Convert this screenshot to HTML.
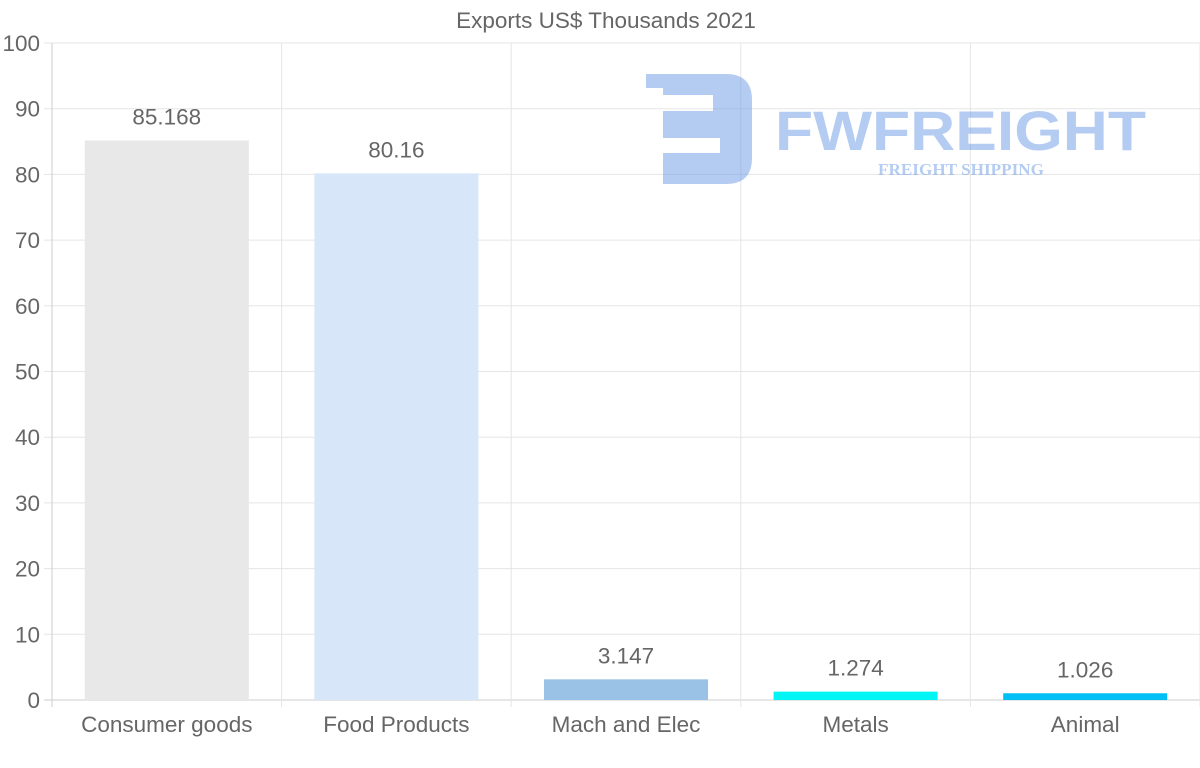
<!DOCTYPE html>
<html><head><meta charset="utf-8"><style>
body{margin:0;background:#fff;width:1200px;height:763px;overflow:hidden;font-family:"Liberation Sans",sans-serif}
</style></head><body>
<svg id="chart" width="1200" height="763" xmlns="http://www.w3.org/2000/svg" font-family="Liberation Sans, sans-serif">
<text x="606" y="28" text-anchor="middle" font-size="22.5" fill="#666">Exports US$ Thousands 2021</text>
<g id="grid"></g>
<g id="watermark" opacity="0.5">
<path d="M646 74 H726 Q752 74 752 100 V158 Q752 184 726 184 H663 V153 H720 V138 H663 V111 H713 V95 H663 V88 H646 Z" fill="#6b9ae6"/>
<text x="775" y="150" font-size="56" font-weight="bold" fill="#6b9ae6" textLength="371" lengthAdjust="spacingAndGlyphs">FWFREIGHT</text>
<text x="878" y="175" font-size="17" font-weight="bold" font-family="Liberation Serif, serif" fill="#6b9ae6" textLength="166" lengthAdjust="spacingAndGlyphs">FREIGHT SHIPPING</text>
</g>
<g id="bars"></g>
</svg>
<script>
const categories=["Consumer goods","Food Products","Mach and Elec","Metals","Animal"];
const values=[85.168,80.16,3.147,1.274,1.026];
const valueLabels=["85.168","80.16","3.147","1.274","1.026"];
const colors=["#e8e8e8","#d7e7f9","#9ac2e6","#00f5f5","#00bff5"];
const yTicks=[0,10,20,30,40,50,60,70,80,90,100];
const NS="http://www.w3.org/2000/svg";
const L=52,R=1200,T=43,B=700,yMax=100;
const y=v=>B-(v/yMax)*(B-T);
const bw=(R-L)/categories.length;
const x=i=>L+bw*i;
function mk(tag,attrs,parent){const e=document.createElementNS(NS,tag);for(const k in attrs)e.setAttribute(k,attrs[k]);parent.appendChild(e);return e;}
const grid=document.getElementById('grid'),bars=document.getElementById('bars');
yTicks.forEach(t=>{
 const ln=mk('line',{x1:44,x2:R,y1:y(t),y2:y(t),stroke:t===0?'#ccc':'#e5e5e5','stroke-width':1},grid);
 
 
 const tx=mk('text',{x:40,y:y(t)+8,'text-anchor':'end','font-size':22.5,fill:'#666'},grid);
 tx.textContent=t;
 
 
});
for(let i=0;i<=categories.length;i++){
 const ln=mk('line',{x1:x(i),x2:x(i),y1:T,y2:707,stroke:i===0?'#ccc':'#e5e5e5','stroke-width':1},grid);
 
 
}
categories.forEach((c,i)=>{
 const cx=x(i)+bw/2,w=164;
 const r=mk('rect',{x:cx-w/2,y:y(values[i]),width:w,height:B-y(values[i]),fill:colors[i]},bars);
 
 
 const v=mk('text',{x:cx,y:y(values[i])-16,'text-anchor':'middle','font-size':22.5,fill:'#666'},bars);
 v.textContent=valueLabels[i];
 
 
 const l=mk('text',{x:cx,y:732,'text-anchor':'middle','font-size':22.5,fill:'#666'},bars);
 l.textContent=c;
 
 
});
</script>
</body></html>
